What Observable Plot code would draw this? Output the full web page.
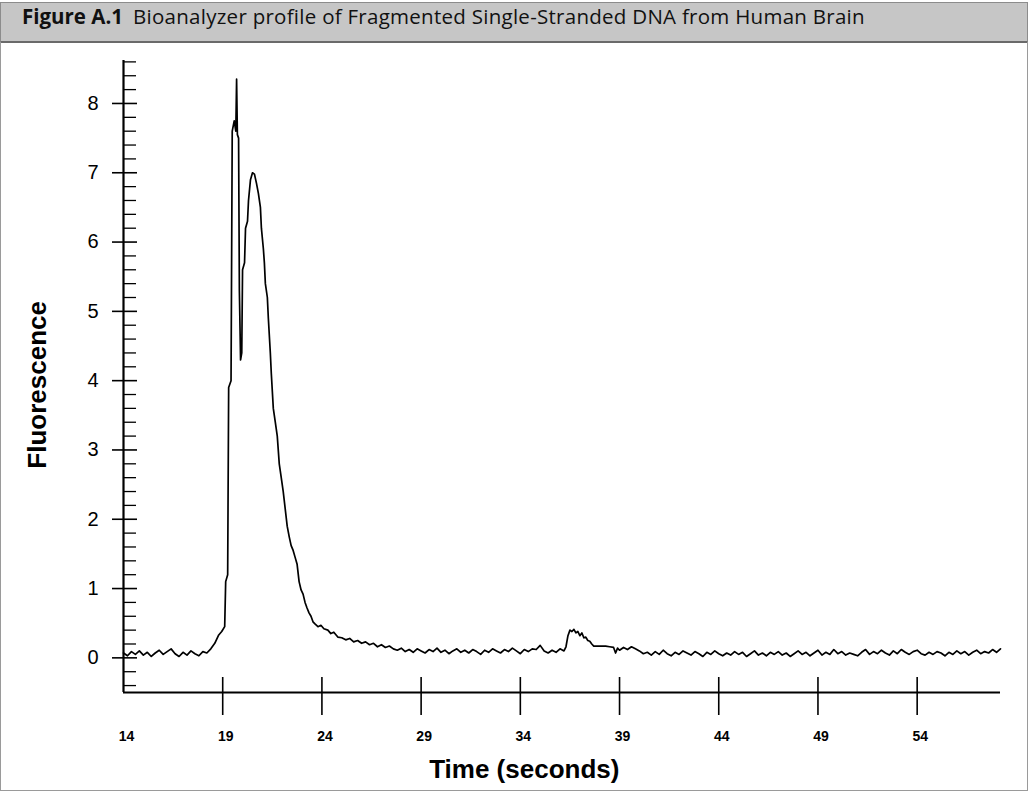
<!DOCTYPE html>
<html>
<head>
<meta charset="utf-8">
<script src="https://cdn.jsdelivr.net/npm/d3@7"></script>
<script src="https://cdn.jsdelivr.net/npm/@observablehq/plot@0.6"></script>
<style>
  html, body { margin: 0; padding: 0; background: #fff; }
  #page { position: relative; width: 1029px; height: 793px; overflow: hidden; }
  #titlebar {
    position: absolute; left: 0; top: 2px; width: 1026px; height: 38px;
    background: #c6c6c6; border: 1px solid #8c8c8c; border-bottom: 2px solid #6a6a6a;
  }
  #titletext {
    position: absolute; left: 22px; top: 6px; line-height: 20px;
    font-family: "Open Sans", sans-serif; font-size: 20.5px; color: #111; white-space: nowrap;
  }
  #titletext span.lead { font-weight: 700; margin-right: 10px; }
  #titletext span.rest { letter-spacing: 0.27px; }
  #panel {
    position: absolute; left: 0; top: 42px; width: 1026px; height: 748px;
    border-left: 1px solid #9a9a9a; border-right: 1px solid #9a9a9a; border-bottom: 1px solid #9a9a9a;
  }
  #chart { position: absolute; left: 0; top: 38px; }
</style>
</head>
<body>
<div id="page">
  <div id="titlebar"></div>
  <div id="titletext"><span class="lead">Figure A.1</span><span class="rest">Bioanalyzer profile of Fragmented Single-Stranded DNA from Human Brain</span></div>
  <div id="panel"></div>
  <div id="chart"></div>
</div>
<script>
// ---- Data ----
const preTime = [14.0,14.2,14.4,14.6,14.8,15.0,15.2,15.4,15.6,15.8,16.0,16.2,16.4,16.6,16.8,17.0,17.2,17.4,17.6,17.8,18.0,18.2,18.4,18.6,18.8];
const preValue = [0.07,0.03,0.09,0.05,0.10,0.04,0.08,0.02,0.07,0.11,0.05,0.09,0.13,0.06,0.02,0.08,0.04,0.10,0.06,0.03,0.09,0.07,0.13,0.21,0.33];

const peakTime = [18.95,19.1,19.15,19.25,19.3,19.42,19.48,19.58,19.66,19.7,19.74,19.8,19.84,19.9,19.96,20.0,20.1,20.15,20.25,20.3,20.4,20.5,20.6,20.7,20.8,20.9,20.95,21.05,21.1,21.15,21.25,21.3,21.4,21.45,21.55,21.65,21.75,21.85,21.95,22.05,22.15,22.25,22.35,22.45,22.55,22.65,22.75,22.85,22.95,23.05,23.15,23.25,23.35,23.45,23.55,23.65,23.8,23.95,24.1,24.3,24.45,24.6,24.8,25.0,25.2,25.4,25.6,25.8,26.0,26.2,26.4,26.6,26.8,27.0,27.2,27.4,27.6];
const peakValue = [0.38,0.45,1.1,1.2,3.9,4.0,7.6,7.75,7.6,8.35,7.55,7.5,5.3,4.3,4.4,5.6,5.7,6.2,6.3,6.6,6.9,7.0,6.98,6.85,6.7,6.5,6.2,5.9,5.7,5.4,5.2,4.9,4.4,4.1,3.6,3.4,3.2,2.8,2.6,2.4,2.15,1.9,1.75,1.62,1.55,1.45,1.35,1.1,0.98,0.92,0.8,0.72,0.65,0.6,0.52,0.49,0.45,0.47,0.42,0.4,0.35,0.37,0.3,0.29,0.26,0.28,0.23,0.25,0.21,0.23,0.19,0.21,0.16,0.19,0.15,0.17,0.13];

const midTime = [27.8,28.0,28.2,28.4,28.6,28.8,29.0,29.2,29.4,29.6,29.8,30.0,30.2,30.4,30.6,30.8,31.0,31.2,31.4,31.6,31.8,32.0,32.2,32.4,32.6,32.8,33.0,33.2,33.4,33.6,33.8,34.0,34.2,34.4,34.6,34.8,35.0,35.2,35.4,35.6,35.8,36.0,36.2];
const midValue = [0.11,0.14,0.09,0.12,0.08,0.13,0.10,0.07,0.12,0.09,0.14,0.08,0.11,0.06,0.10,0.13,0.08,0.11,0.07,0.12,0.09,0.05,0.11,0.08,0.13,0.10,0.07,0.12,0.09,0.14,0.10,0.06,0.12,0.09,0.13,0.12,0.18,0.10,0.07,0.11,0.08,0.13,0.10];

const bumpTime = [36.3,36.4,36.5,36.6,36.7,36.8,36.9,37.0,37.1,37.2,37.3,37.4,37.5,37.6,37.7,37.9,38.1,38.3,38.5,38.7,38.8,38.9,39.0,39.2,39.4,39.6,39.8,40.0,40.2];
const bumpValue = [0.16,0.32,0.40,0.38,0.41,0.36,0.38,0.32,0.36,0.29,0.30,0.25,0.24,0.20,0.17,0.17,0.17,0.17,0.16,0.15,0.07,0.14,0.11,0.15,0.12,0.16,0.13,0.10,0.06];

const lateTime = [40.4,40.6,40.8,41.0,41.2,41.4,41.6,41.8,42.0,42.2,42.4,42.6,42.8,43.0,43.2,43.4,43.6,43.8,44.0,44.2,44.4,44.6,44.8,45.0,45.2,45.4,45.6,45.8,46.0,46.2,46.4,46.6,46.8,47.0,47.2,47.4,47.6,47.8,48.0,48.2,48.4,48.6,48.8,49.0,49.2,49.4,49.6,49.8,50.0,50.2,50.4,50.6,50.8,51.0,51.2,51.4,51.6,51.8,52.0,52.2,52.4,52.6,52.8,53.0,53.2,53.4,53.6,53.8,54.0,54.2,54.4,54.6,54.8,55.0,55.2,55.4,55.6,55.8,56.0,56.2,56.4,56.6,56.8,57.0,57.2,57.4,57.6,57.8,58.0,58.2];
const lateValue = [0.08,0.04,0.09,0.05,0.11,0.06,0.03,0.08,0.05,0.10,0.07,0.04,0.09,0.06,0.02,0.08,0.05,0.10,0.06,0.03,0.07,0.04,0.09,0.05,0.08,0.02,0.06,0.10,0.04,0.07,0.03,0.08,0.05,0.09,0.04,0.07,0.02,0.06,0.10,0.05,0.08,0.03,0.07,0.11,0.04,0.08,0.05,0.12,0.06,0.09,0.04,0.07,0.05,0.03,0.08,0.12,0.05,0.09,0.06,0.11,0.07,0.04,0.10,0.06,0.12,0.08,0.05,0.09,0.11,0.06,0.04,0.08,0.05,0.09,0.07,0.03,0.08,0.05,0.10,0.06,0.09,0.04,0.08,0.11,0.06,0.09,0.07,0.12,0.08,0.13];

const xTicks = [19, 24, 29, 34, 39, 44, 49, 54];
const xTickLabels = [14, 19, 24, 29, 34, 39, 44, 49, 54];
const yMajor = [0, 1, 2, 3, 4, 5, 6, 7, 8];
const yMinor = [-0.4,-0.2,0.2,0.4,0.6,0.8,1.2,1.4,1.6,1.8,2.2,2.4,2.6,2.8,3.2,3.4,3.6,3.8,4.2,4.4,4.6,4.8,5.2,5.4,5.6,5.8,6.2,6.4,6.6,6.8,7.2,7.4,7.6,7.8,8.2,8.4,8.6];

const xTitle = "Time (seconds)";
const yTitle = "Fluorescence";

// ---- Build table ----
const times = [...preTime, ...peakTime, ...midTime, ...bumpTime, ...lateTime];
const values = [...preValue, ...peakValue, ...midValue, ...bumpValue, ...lateValue];
const trace = times.map((t, i) => ({t, v: values[i]}));

const chart = Plot.plot({
  width: 1029,
  height: 755,
  marginLeft: 123,
  marginRight: 29,
  marginTop: 22,
  marginBottom: 101,
  x: {domain: [14, 58.2], axis: null},
  y: {domain: [-0.5, 8.62], axis: null},
  style: {background: "transparent", fontFamily: "'Liberation Sans', Arial, sans-serif", color: "black"},
  marks: [
    // axis lines
    Plot.ruleX([14], {y1: -0.5, y2: 8.62, stroke: "black", strokeWidth: 2.2}),
    Plot.ruleY([-0.5], {x1: 14, x2: 58.2, stroke: "black", strokeWidth: 2.2}),
    // y ticks
    Plot.ruleY(yMajor, {y: d => d, x1: 14, x2: 14, insetLeft: -11, insetRight: -14, stroke: "black", strokeWidth: 1.6}),
    Plot.ruleY(yMinor, {y: d => d, x1: 14, x2: 14, insetLeft: 0, insetRight: -13, stroke: "black", strokeWidth: 1.3}),
    // x ticks
    Plot.ruleX(xTicks, {x: d => d, y1: -0.5, y2: -0.5, insetTop: -15, insetBottom: -23, stroke: "black", strokeWidth: 1.6}),
    // tick labels
    Plot.text(yMajor, {x: 14, y: d => d, text: d => String(d), dx: -25, textAnchor: "end", fontSize: 20, fill: "black"}),
    Plot.text(xTickLabels, {x: d => d, y: -0.5, text: d => String(d), dx: 3, dy: 44, fontSize: 14, fontWeight: "bold", fill: "black"}),
    // titles
    Plot.text([xTitle], {x: 34.2, y: -0.5, text: d => d, dy: 77, fontSize: 26, fontWeight: "bold", fill: "black"}),
    Plot.text([yTitle], {x: 14, y: 3.94, text: d => d, dx: -86, rotate: -90, fontSize: 26, fontWeight: "bold", fill: "black"}),
    // trace
    Plot.line(trace, {x: "t", y: "v", stroke: "black", strokeWidth: 1.7})
  ]
});
document.getElementById("chart").appendChild(chart);
</script>
</body>
</html>
